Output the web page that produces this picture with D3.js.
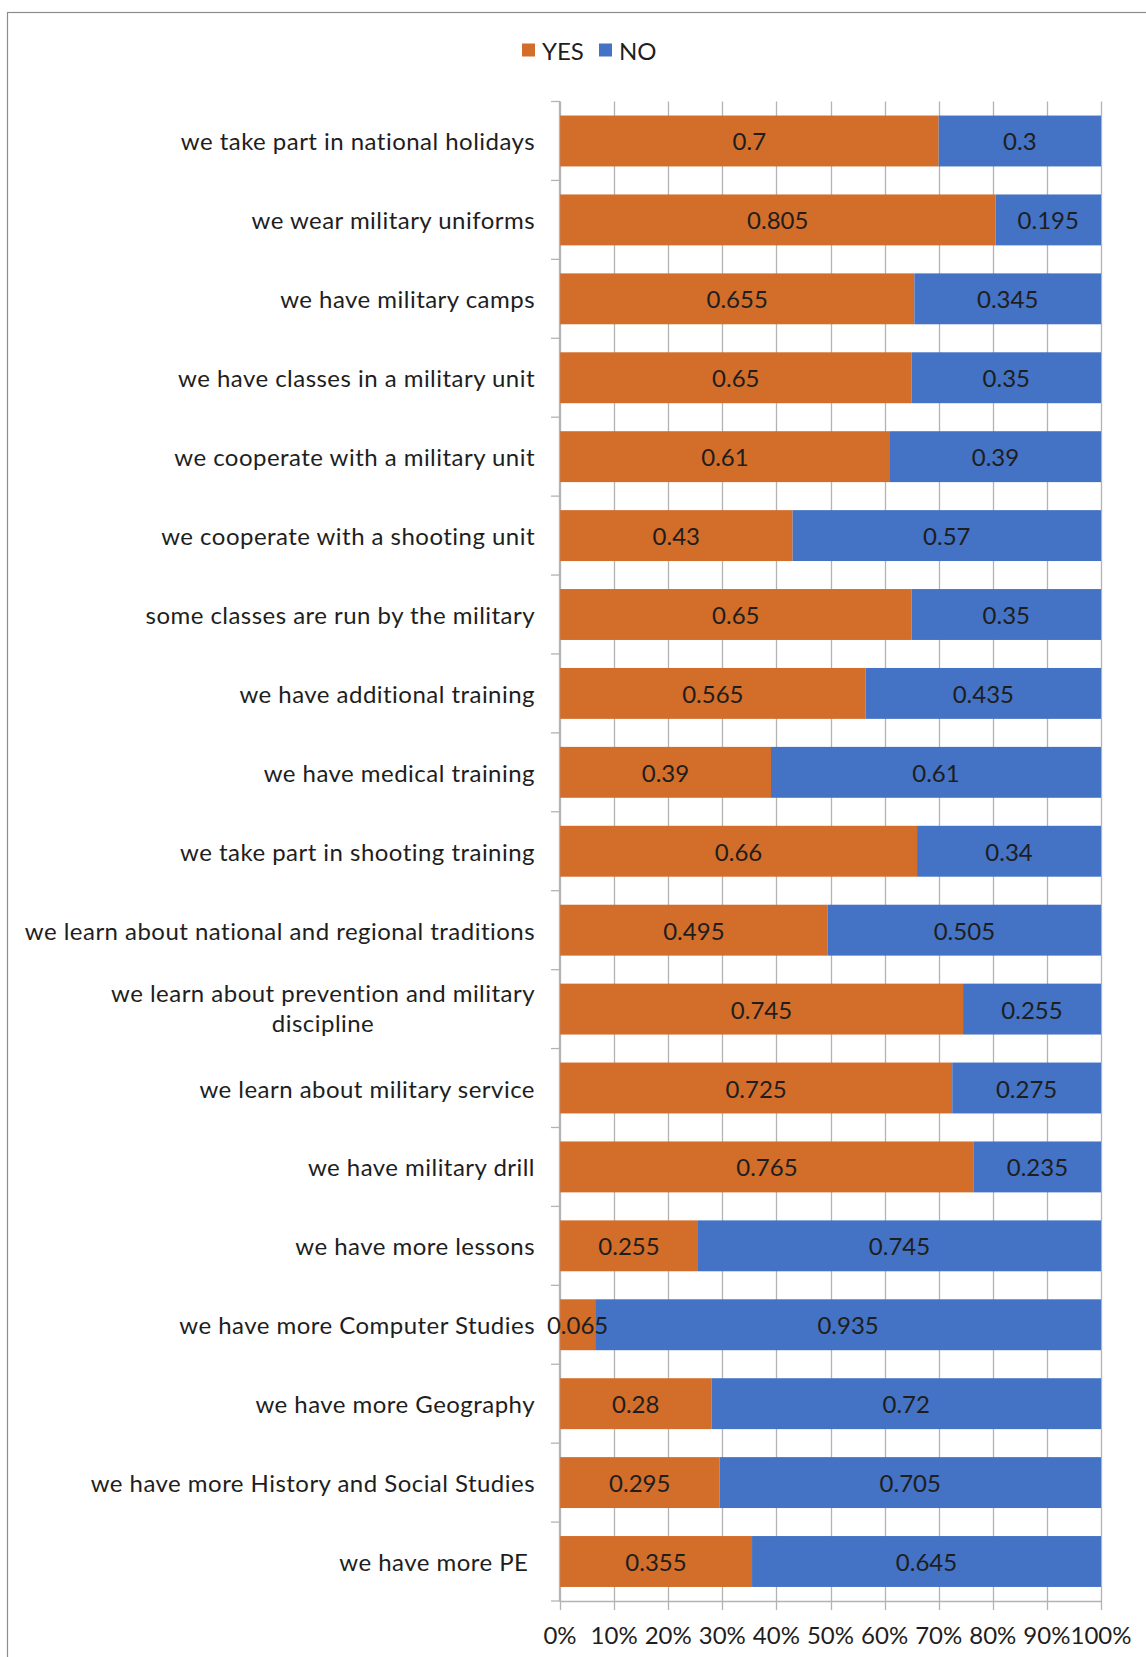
<!DOCTYPE html>
<html>
<head>
<meta charset="utf-8">
<script src="https://cdn.jsdelivr.net/npm/d3@7"></script>
<style>
  html, body { margin: 0; padding: 0; background: #fff; }
  svg { display: block; }
  text { font-family: Lato, "Open Sans", sans-serif; fill: #1e1e1e; }
</style>
</head>
<body>
<svg id="chart" width="1146" height="1657"></svg>
<script>
const categories = [
  "we take part in national holidays",
  "we wear military uniforms",
  "we have military camps",
  "we have classes in a military unit",
  "we cooperate with a military unit",
  "we cooperate with a shooting unit",
  "some classes are run by the military",
  "we have additional training",
  "we have medical training",
  "we take part in shooting training",
  "we learn about national and regional traditions",
  "we learn about prevention and military\ndiscipline",
  "we learn about military service",
  "we have military drill",
  "we have more lessons",
  "we have more Computer Studies",
  "we have more Geography",
  "we have more History and Social Studies",
  "we have more PE "
];
const yesValues = [0.7, 0.805, 0.655, 0.65, 0.61, 0.43, 0.65, 0.565, 0.39, 0.66, 0.495, 0.745, 0.725, 0.765, 0.255, 0.065, 0.28, 0.295, 0.355];
const noValues  = [0.3, 0.195, 0.345, 0.35, 0.39, 0.57, 0.35, 0.435, 0.61, 0.34, 0.505, 0.255, 0.275, 0.235, 0.745, 0.935, 0.72, 0.705, 0.645];
const seriesNames = ["YES", "NO"];
const seriesColors = ["#D26D2A", "#4472C4"];
const tickValues = [0, 0.1, 0.2, 0.3, 0.4, 0.5, 0.6, 0.7, 0.8, 0.9, 1.0];

const svg = d3.select("#chart");
const fs = 24;

// label letter-spacing fitted so the widest reference label width (Calibri) is matched
const probe = svg.append("text").attr("font-size", fs).text("we learn about national and regional traditions");
const pw = probe.node().getComputedTextLength();
probe.remove();
const nChars = "we learn about national and regional traditions".length;
const ls = Math.max(0, Math.min(1.2, (511 - pw) / nChars));

// frame
svg.append("rect").attr("x", 7.5).attr("y", 12.5).attr("width", 1200).attr("height", 1700)
  .attr("fill", "none").attr("stroke", "#8c8c8c").attr("stroke-width", 1.2);

const x = d3.scaleLinear().domain([0, 1]).range([560, 1101]);
const y = d3.scaleBand().domain(categories).range([101.5, 1601]).paddingInner(0.355).paddingOuter(0.178);

const gridColor = "#b3b3b3";

// vertical gridlines
svg.append("g").selectAll("line").data(tickValues).join("line")
  .attr("x1", d => Math.round(x(d)) + 0.5).attr("x2", d => Math.round(x(d)) + 0.5)
  .attr("y1", 101.5).attr("y2", 1610)
  .attr("stroke", gridColor).attr("stroke-width", 1.3);

// bottom axis line
svg.append("line").attr("x1", x(0)).attr("x2", x(1)).attr("y1", 1601.5).attr("y2", 1601.5)
  .attr("stroke", gridColor).attr("stroke-width", 1.3);

// left axis ticks at band boundaries
const bounds = d3.range(categories.length + 1).map(i => 101.5 + i * (1601 - 101.5) / categories.length);
svg.append("g").selectAll("line").data(bounds).join("line")
  .attr("x1", x(0) - 9).attr("x2", x(0)).attr("y1", d => d).attr("y2", d => d)
  .attr("stroke", gridColor).attr("stroke-width", 1.3);

// stacked bars
const rows = categories.map((c, i) => ({cat: c, vals: [yesValues[i], noValues[i]]}));
const stackGen = d3.stack().keys([0, 1]).value((d, k) => d.vals[k]);
const stacked = stackGen(rows);

stacked.forEach((layer, k) => {
  svg.append("g").selectAll("rect").data(layer).join("rect")
    .attr("x", d => x(d[0]))
    .attr("width", d => x(d[1]) - x(d[0]))
    .attr("y", d => y(d.data.cat))
    .attr("height", y.bandwidth())
    .attr("fill", seriesColors[k]);
});

// left axis line
svg.append("line").attr("x1", x(0) - 0.5).attr("x2", x(0) - 0.5).attr("y1", 101.5).attr("y2", 1601.5)
  .attr("stroke", gridColor).attr("stroke-width", 1.3);

// data labels
stacked.forEach((layer, k) => {
  svg.append("g").selectAll("text").data(layer).join("text")
    .attr("x", d => (x(d[0]) + x(d[1])) / 2)
    .attr("y", d => y(d.data.cat) + y.bandwidth() / 2)
    .attr("text-anchor", "middle").attr("dominant-baseline", "central")
    .attr("font-size", fs)
    .text(d => String(d.data.vals[k]));
});

// category labels
const labelG = svg.append("g");
categories.forEach(c => {
  const lines = c.split("\n");
  const cy = y(c) + y.bandwidth() / 2;
  const lh = 29.5;
  if (lines.length === 1) {
    labelG.append("text").attr("x", 535).attr("y", cy)
      .attr("text-anchor", "end").attr("dominant-baseline", "central")
      .attr("font-size", fs).attr("letter-spacing", ls).style("white-space", "pre").text(c);
  } else {
    const widths = lines.map(l => {
      const t = labelG.append("text").attr("font-size", fs).attr("letter-spacing", ls).text(l);
      const ww = t.node().getComputedTextLength();
      t.remove();
      return ww;
    });
    const bw = d3.max(widths);
    const center = 535 - bw / 2;
    lines.forEach((l, i) => {
      labelG.append("text").attr("x", center)
        .attr("y", cy + (i - (lines.length - 1) / 2) * lh - 1.5)
        .attr("text-anchor", "middle").attr("dominant-baseline", "central")
        .attr("font-size", fs).attr("letter-spacing", ls).text(l);
    });
  }
});

// x tick labels
svg.append("g").selectAll("text").data(tickValues).join("text")
  .attr("x", d => x(d)).attr("y", 1634)
  .attr("text-anchor", "middle").attr("dominant-baseline", "central")
  .attr("font-size", fs)
  .text(d => d3.format(".0%")(d));

// legend
const legend = svg.append("g");
const legItems = [{name: seriesNames[0], color: seriesColors[0], sx: 522, tx: 542},
                  {name: seriesNames[1], color: seriesColors[1], sx: 599, tx: 619}];
legItems.forEach(it => {
  legend.append("rect").attr("x", it.sx).attr("y", 43.5).attr("width", 13).attr("height", 13).attr("fill", it.color);
  legend.append("text").attr("x", it.tx).attr("y", 50).attr("dominant-baseline", "central")
    .attr("font-size", fs).text(it.name);
});
</script>
</body>
</html>
